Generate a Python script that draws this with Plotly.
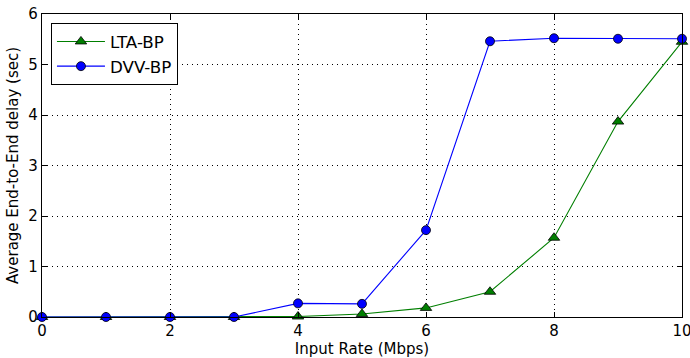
import plotly.graph_objects as go

x_vals = [0, 1, 2, 3, 4, 5, 6, 7, 8, 9, 10]
lta_bp = [0, 0, 0, 0, 0.01, 0.06, 0.18, 0.5, 1.57, 3.87, 5.45]
dvv_bp = [0, 0, 0, 0, 0.27, 0.26, 1.72, 5.46, 5.52, 5.51, 5.51]

fig = go.Figure()
fig.add_trace(go.Scatter(
    x=x_vals, y=lta_bp, name="LTA-BP", mode="lines+markers",
    line=dict(color="#007f00", width=1.1),
    marker=dict(symbol="triangle-up", size=10, color="#007f00",
                line=dict(color="black", width=0.8)),
    cliponaxis=False,
))
fig.add_trace(go.Scatter(
    x=x_vals, y=dvv_bp, name="DVV-BP", mode="lines+markers",
    line=dict(color="#0000ff", width=1.1),
    marker=dict(symbol="circle", size=9, color="#0000ff",
                line=dict(color="black", width=0.8)),
    cliponaxis=False,
))

axis_common = dict(
    showline=True, linecolor="black", linewidth=1.2, mirror="ticks",
    ticks="inside", ticklen=5, tickcolor="black",
    showgrid=True, gridcolor="black", griddash="1px,4px", gridwidth=1,
    zeroline=False, ticklabeloverflow="allow", automargin=False,
    tickfont=dict(family="DejaVu Sans", size=15, color="black"),
)

fig.update_layout(
    width=690, height=358,
    margin=dict(l=42, r=8, t=14, b=41),
    paper_bgcolor="white", plot_bgcolor="white",
    font=dict(family="DejaVu Sans", color="black"),
    xaxis=dict(range=[0, 10], dtick=2, tick0=0,
               title=dict(text="Input Rate (Mbps)", font=dict(size=15), standoff=4),
               **axis_common),
    yaxis=dict(range=[0, 6], dtick=1, tick0=0,
               title=dict(text="Average End-to-End delay (sec)", font=dict(size=15), standoff=6),
               **axis_common),
    legend=dict(x=0.014, y=0.97, xanchor="left", yanchor="top",
                bgcolor="white", bordercolor="black", borderwidth=1,
                font=dict(family="DejaVu Sans", size=16.7, color="black"),
                itemwidth=48, tracegroupgap=2),
    showlegend=True,
)

fig.write_html("out.html", config={"displayModeBar": False},
               post_script="document.body.style.margin='0px';")
